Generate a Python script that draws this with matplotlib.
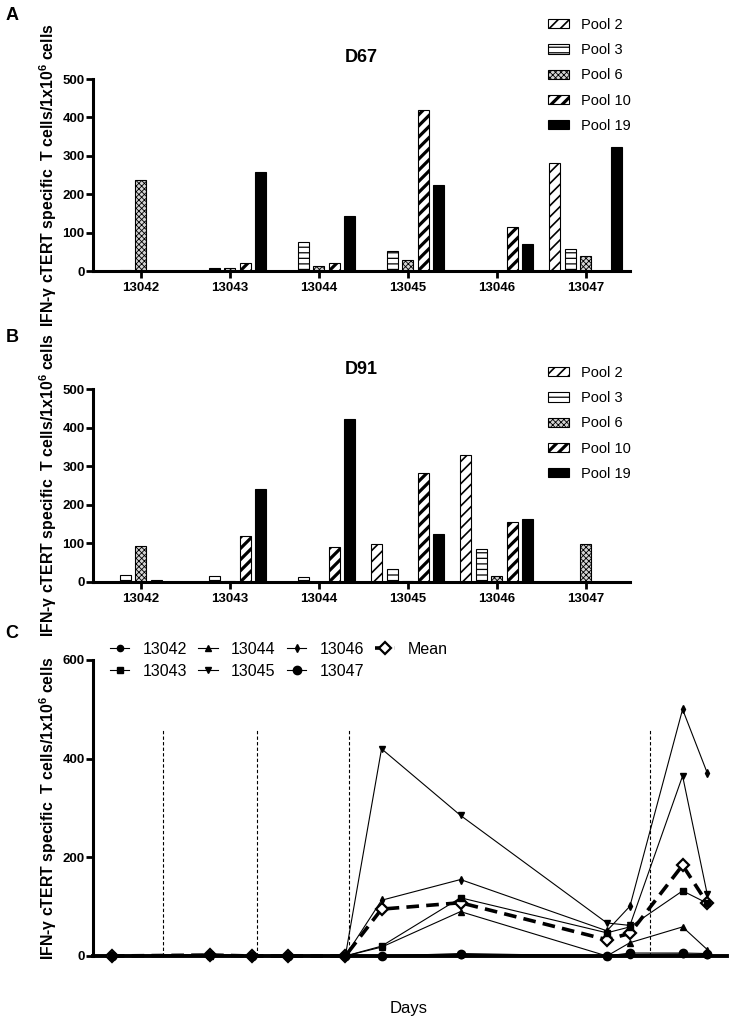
import matplotlib
matplotlib.use('Agg')
import matplotlib.pyplot as plt
from matplotlib.patches import Patch
import numpy as np

FAM = 'Liberation Sans'
plt.rcParams['font.family'] = [FAM, 'DejaVu Sans']
plt.rcParams['mathtext.fontset'] = 'custom'
plt.rcParams['mathtext.rm'] = FAM
plt.rcParams['mathtext.bf'] = FAM + ':bold'
plt.rcParams['mathtext.it'] = FAM + ':italic'

# ---------------- data ----------------
patients = ['13042', '13043', '13044', '13045', '13046', '13047']
pools = ['Pool 2', 'Pool 3', 'Pool 6', 'Pool 10', 'Pool 19']

pool2_d67 = [0, 0, 0, 0, 0, 281]
pool3_d67 = [3, 7, 76, 52, 0, 58]
pool6_d67 = [238, 8, 12, 29, 0, 39]
pool10_d67 = [0, 20, 20, 419, 114, 0]
pool19_d67 = [0, 257, 142, 223, 71, 322]

pool2_d91 = [0, 0, 0, 97, 328, 0]
pool3_d91 = [17, 15, 13, 34, 84, 0]
pool6_d91 = [94, 3, 0, 2, 16, 99]
pool10_d91 = [4, 119, 91, 283, 156, 0]
pool19_d91 = [0, 242, 424, 125, 163, 0]

days = [-15, 15, 27.5, 38.5, 56, 67, 91, 135.5, 142.5, 158.5, 166]
vaccination_days = [0.5, 29, 57, 148.5]
p13042 = [0, 2, 0, 0, 0, 0, 3, 0, 3, 4, 2]
p13043 = [0, 2, 0, 0, 0, 20, 118, 47, 59, 132, 107]
p13044 = [0, 1, 0, 0, 0, 18, 90, 0, 27, 59, 13]
p13045 = [0, 3, 0, 0, 0, 420, 285, 67, 62, 365, 125]
p13046 = [0, 2, 0, 0, 0, 113, 155, 51, 101, 500, 371]
p13047 = [0, 3, 0, 0, 0, 0, 5, 0, 6, 6, 5]
mean_vals = [0, 2, 0, 0, 0, 95, 108, 33, 46, 184, 107]

# ---------------- layout ----------------
W, H = 731, 1022
fig = plt.figure(figsize=(W / 100, H / 100), dpi=100)


def axrect(l, t, r, b):
    return [l / W, 1 - b / H, (r - l) / W, (b - t) / H]


axA = fig.add_axes(axrect(93, 79, 630, 271))
axB = fig.add_axes(axrect(93, 389.3, 630, 581.7))
axC = fig.add_axes(axrect(93, 660, 727, 956))

styles = [
    dict(fc='white', hatch='///', hlw=1.2),
    dict(fc='white', hatch='---', hlw=0.9),
    dict(fc='#d4d4d4', hatch='xxxxxx', hlw=0.6),
    dict(fc='white', hatch='///', hlw=2.3),
    dict(fc='black', hatch=None, hlw=1.0),
]
BW = 0.125
SP = 0.174
YLAB = 'IFN-γ cTERT specific  T cells/1x10$^{\\mathbf{6}}$ cells'


def set_hlw(artist, lw):
    if hasattr(artist, 'set_hatch_linewidth'):
        try:
            artist.set_hatch_linewidth(lw)
        except Exception:
            pass


def style_axis(ax):
    for s in ['top', 'right']:
        ax.spines[s].set_visible(False)
    for s in ['left', 'bottom']:
        ax.spines[s].set_linewidth(2.2)
    for lab in ax.get_xticklabels() + ax.get_yticklabels():
        lab.set_fontweight('bold')


def bar_panel(ax, series, title, title_y, leg_top):
    x = np.arange(len(patients))
    handles = []
    for i, (vals, st) in enumerate(zip(series, styles)):
        bars = ax.bar(x + (i - 2) * SP, vals, BW, facecolor=st['fc'],
                      edgecolor='black', hatch=st['hatch'], linewidth=0.8,
                      zorder=2)
        for b in bars:
            set_hlw(b, st['hlw'])
        handles.append(Patch(facecolor=st['fc'], edgecolor='black',
                             hatch=st['hatch'], linewidth=0.8))
    ax.set_xlim(-0.535, 5.497)
    ax.set_ylim(0, 500)
    ax.set_yticks([0, 100, 200, 300, 400, 500])
    ax.set_xticks(x, patients)
    ax.tick_params(axis='both', width=2, length=5, labelsize=9.5)
    ax.tick_params(axis='y', pad=1)
    ax.tick_params(axis='x', pad=3)
    style_axis(ax)
    fig.text(361 / W, 1 - title_y / H, title, ha='center', va='center',
             fontsize=13, fontweight='bold')
    leg = ax.legend(handles, pools, loc='upper left',
                    bbox_to_anchor=(548 / W, 1 - leg_top / H),
                    bbox_transform=fig.transFigure, frameon=False,
                    fontsize=10.5, borderpad=0, borderaxespad=0,
                    handlelength=1.44, handleheight=0.6, handletextpad=0.8,
                    labelspacing=0.77)
    for p, st in zip(leg.get_patches(), styles):
        set_hlw(p, st['hlw'])


bar_panel(axA, [pool2_d67, pool3_d67, pool6_d67, pool10_d67, pool19_d67],
          'D67', 58, 18)
bar_panel(axB, [pool2_d91, pool3_d91, pool6_d91, pool10_d91, pool19_d91],
          'D91', 370, 366)

# ---------------- panel C ----------------
series_c = [p13042, p13043, p13044, p13045, p13046, p13047]
markers = ['o', 's', '^', 'v', 'd', 'o']
msizes = [4.5, 4.8, 5, 5, 4, 6]
axC.vlines(vaccination_days, 0, 458, colors='black', linestyles=(0, (3, 2)),
           linewidth=0.8, zorder=1)
axC.plot(days, mean_vals, color='black', linewidth=2.6,
         linestyle=(0, (3.5, 2)), marker='D', markersize=6,
         markerfacecolor='white', markeredgecolor='black',
         markeredgewidth=1.6, label='Mean', clip_on=False, zorder=3)
for name, vals, m, ms in zip(patients, series_c, markers, msizes):
    axC.plot(days, vals, color='black', linewidth=0.8, marker=m,
             markersize=ms, label=name, clip_on=False, zorder=4)
axC.set_xlim(-20.7, 172)
axC.set_ylim(0, 600)
axC.set_yticks([0, 200, 400, 600])
axC.set_xticks([])
axC.tick_params(axis='y', width=2, length=5, labelsize=9.5, pad=1)
style_axis(axC)
axC.spines['bottom'].set_linewidth(2.8)
hs, ls = axC.get_legend_handles_labels()
order = [1, 2, 3, 4, 5, 6, 0]
axC.legend([hs[i] for i in order], [ls[i] for i in order], loc='upper left',
           bbox_to_anchor=(110 / W, 1 - 641.5 / H),
           bbox_transform=fig.transFigure, ncol=4, frameon=False,
           fontsize=11.5, borderpad=0, borderaxespad=0, handlelength=1.2,
           handletextpad=0.85, columnspacing=0.7, labelspacing=0.45)

# ---------------- labels ----------------
for t, yc in [('A', 16), ('B', 337), ('C', 633)]:
    fig.text(12 / W, 1 - yc / H, t, ha='center', va='center',
             fontsize=13, fontweight='bold')
for yc in [175, 485.5, 808]:
    fig.text(48 / W, 1 - yc / H, YLAB, rotation=90, ha='center',
             va='center', fontsize=11.4, fontweight='bold')
fig.text(409 / W, 1 - 1008 / H, 'Days', ha='center', va='center',
         fontsize=12)

fig.savefig('out.png', dpi=100)
